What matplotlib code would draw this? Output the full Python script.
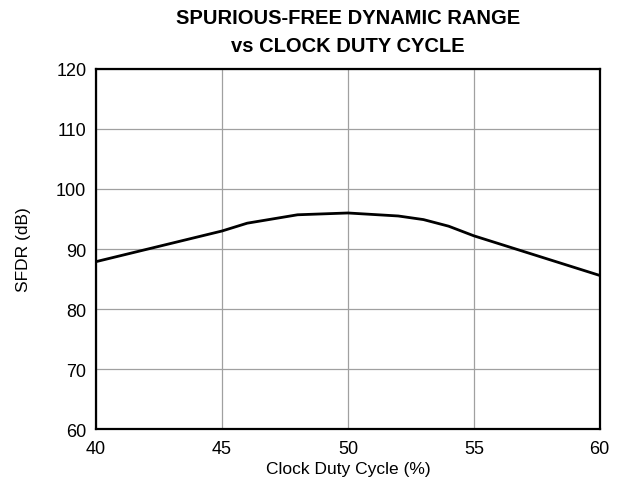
import matplotlib
matplotlib.use("Agg")
import matplotlib.pyplot as plt

plt.rcParams["font.family"] = ["Liberation Sans", "DejaVu Sans"]

# SFDR vs clock duty cycle
duty_cycle = [40, 45, 46, 48, 50, 52, 53, 54, 55, 60]
sfdr_db = [87.9, 93.0, 94.3, 95.7, 96.0, 95.5, 94.9, 93.8, 92.2, 85.6]

x_ticks = [40, 45, 50, 55, 60]
y_ticks = [60, 70, 80, 90, 100, 110, 120]

fig = plt.figure(figsize=(6.28, 4.85), dpi=100)
ax = fig.add_axes([0.153, 0.113, 0.802, 0.743])

ax.plot(duty_cycle, sfdr_db, color="black", linewidth=2.0, zorder=3)

ax.set_xlim(40, 60)
ax.set_ylim(60, 120)
ax.set_xticks(x_ticks)
ax.set_yticks(y_ticks)
ax.tick_params(axis="y", length=0, labelsize=13, pad=7)
ax.tick_params(axis="x", length=0, labelsize=13, pad=8)
ax.grid(True, color="#a0a0a0", linewidth=0.9)
for spine in ax.spines.values():
    spine.set_linewidth(1.6)

ax.set_xlabel("Clock Duty Cycle (%)", fontsize=12.5, labelpad=3)
ax.set_ylabel("SFDR (dB)", fontsize=12.5, labelpad=18)
ax.set_title("SPURIOUS-FREE DYNAMIC RANGE\nvs CLOCK DUTY CYCLE",
             fontsize=14.5, fontweight="bold", pad=13, linespacing=1.6)

fig.savefig("out.png", dpi=100)
